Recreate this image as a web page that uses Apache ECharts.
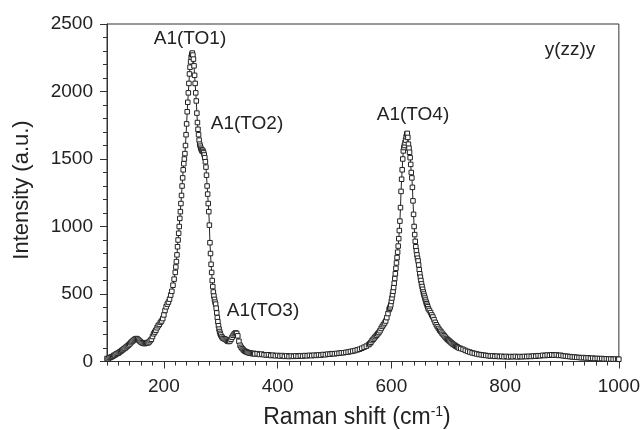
<!DOCTYPE html>
<html>
<head>
<meta charset="utf-8">
<script src="https://cdn.jsdelivr.net/npm/echarts@6/dist/echarts.min.js"></script>
<style>html,body{margin:0;padding:0;background:#fff}#c{width:643px;height:430px}</style>
</head>
<body>
<div id="c"></div>
<script>
// ---- data: [Raman shift (cm-1), intensity (a.u.)] ----
const lowRange = [[100,22],[102,20],[104,28],[106,30],[108,35],[110,38],[112,45],[114,48],[116,55],[118,60],[120,62],[122,70],[124,75],[126,82],[128,88],[130,95],[132,100],[134,108],[136,115],[138,122],[140,130],[142,140],[144,148],[146,155],[148,162],[150,168],[152,170],[154,165],[156,158],[158,150],[160,142],[162,138],[164,135],[166,132],[168,136],[170,140],[172,138],[174,145],[176,155],[178,165],[180,185],[182,205],[184,218],[186,232],[188,250],[190,265],[192,275],[194,290],[196,300],[198,318],[200,345],[202,378],[204,405],[206,425],[208,440],[210,462],[212,492],[214,520],[216,565],[218,610],[220,660]];
const peakTO1 = [[221,700],[222,740],[223,790],[224,850],[225,900],[226,950],[227,1000],[228,1060],[229,1110],[230,1170],[231,1230],[232,1300],[233,1360],[234,1420],[235,1465],[236,1500],[237,1540],[238,1600],[239,1680],[240,1760],[241,1850],[242,1920],[243,1990],[244,2060],[245,2130],[246,2180],[247,2220],[248,2255],[249,2275],[250,2285],[251,2270],[252,2240],[253,2190],[254,2120],[255,2060],[256,1990],[257,1930],[258,1840],[259,1770],[260,1720],[261,1680],[262,1640],[263,1610],[264,1595],[265,1580],[266,1570],[267,1560],[268,1565],[269,1555],[270,1545],[271,1530],[272,1510],[273,1480],[274,1440],[275,1380],[276,1300],[277,1240],[278,1170],[279,1110],[280,1010],[281,880],[282,800],[283,720],[284,660],[285,600],[286,555],[287,515],[288,485],[289,460],[290,440],[291,425],[292,395],[293,360],[294,325],[295,295],[296,265],[297,240],[298,222],[299,208],[300,196]];
const peakTO3 = [[302,182],[304,172],[306,168],[308,165],[310,158],[312,150],[314,148],[316,152],[318,165],[320,180],[322,195],[324,205],[326,212],[328,208],[330,190],[332,150],[334,120],[336,105],[338,95],[340,85],[342,78],[344,73],[346,70],[348,66],[350,64],[352,62],[354,60],[356,58],[358,60],[360,56]];
const baseline = [[364,58],[368,52],[372,55],[376,50],[380,48],[384,50],[388,44],[392,47],[396,42],[400,45],[404,40],[408,44],[412,38],[416,42],[420,37],[424,41],[428,38],[432,42],[436,39],[440,43],[444,40],[448,44],[452,42],[456,46],[460,43],[464,47],[468,45],[472,49],[476,47],[480,52],[484,50],[488,55],[492,54],[496,58],[500,57],[504,60],[508,61],[512,64],[516,65],[520,68],[524,70],[528,74],[532,77],[536,81],[540,86],[544,91],[548,98],[552,106],[556,114],[560,125],[562,132],[564,142],[566,155],[568,165],[570,175],[572,185],[574,195],[576,205],[578,215],[580,228],[582,245],[584,260],[586,272],[588,285],[590,300],[592,325],[594,355],[596,385]];
const peakTO4 = [[597,395],[598,405],[599,420],[600,445],[601,470],[602,495],[603,520],[604,548],[605,580],[606,615],[607,650],[608,690],[609,730],[610,770],[611,810],[612,855],[613,910],[614,970],[615,1040],[616,1140],[617,1260],[618,1350],[619,1420],[620,1500],[621,1560],[622,1585],[623,1600],[624,1620],[625,1640],[626,1665],[627,1685],[628,1690],[629,1660],[630,1610],[631,1580],[632,1550],[633,1510],[634,1460],[635,1400],[636,1360],[637,1290],[638,1190],[639,1090],[640,1000],[641,940],[642,890],[643,850],[644,820],[645,790],[646,765],[647,745],[648,715],[649,680],[650,650],[651,625],[652,600],[653,575],[654,555],[655,535],[656,515],[657,500],[658,485],[659,470],[660,455],[661,440],[662,428],[663,416],[664,405],[665,390]];
const tailRange = [[667,378],[669,362],[671,345],[673,330],[675,310],[677,290],[679,272],[681,258],[683,245],[685,232],[687,222],[689,210],[691,200],[693,190],[695,180],[697,170],[699,162],[701,155],[703,148],[705,140],[707,133],[709,127],[711,121],[713,115],[715,110],[717,105],[719,100],[722,96],[726,90],[730,82],[734,75],[738,70],[742,64],[746,60],[750,56],[754,52],[758,50],[762,47],[766,45],[770,43],[774,40],[778,42],[782,38],[786,40],[790,36],[794,39],[798,35],[802,38],[806,34],[810,37],[814,35],[818,38],[822,34],[826,37],[830,35],[834,38],[838,36],[842,39],[846,37],[850,41],[854,39],[858,43],[862,42],[866,46],[870,44],[874,48],[878,46],[882,50],[886,47],[890,49],[894,45],[898,46],[902,42],[906,40],[910,38],[914,36],[918,34],[922,33],[926,31],[930,30],[934,28],[938,29],[942,26],[946,27],[950,24],[954,25],[958,22],[962,23],[966,21],[970,22],[974,19],[978,20],[982,18],[986,19],[990,17],[994,18],[998,16],[1000,17]];

const xTickLabels = [200, 400, 600, 800, 1000];
const yTickLabels = [0, 500, 1000, 1500, 2000, 2500];
const peakLabels = ['A1(TO1)', 'A1(TO2)', 'A1(TO3)', 'A1(TO4)'];
const geometryLabel = 'y(zz)y';

const spectrum = [].concat(lowRange, peakTO1, peakTO3, baseline, peakTO4, tailRange);

const FONT = '"Liberation Sans", Arial, Helvetica, sans-serif';
const TXT = '#222';
const AX = '#333';

const chart = echarts.init(document.getElementById('c'), null, {renderer: 'canvas'});

// annotation positions (pixels)
const annPos = [[190, 39], [247, 124], [263, 311], [413, 115]];
const graphics = peakLabels.map((t, i) => ({
  type: 'text', x: annPos[i][0], y: annPos[i][1],
  style: {text: t, fill: TXT, font: '19px ' + FONT, textAlign: 'center', textVerticalAlign: 'middle'}
}));
graphics.push({
  type: 'text', x: 570, y: 50,
  style: {text: geometryLabel, fill: TXT, font: '19px ' + FONT, textAlign: 'center', textVerticalAlign: 'middle'}
});
graphics.push({
  type: 'text', x: 22, y: 190, rotation: Math.PI / 2,
  style: {text: 'Intensity (a.u.)', fill: TXT, font: '22px ' + FONT, textAlign: 'center', textVerticalAlign: 'middle'}
});
graphics.push({
  type: 'text', x: 357, y: 418,
  style: {
    text: '{m|Raman shift (cm}{s|-1}{m|)}',
    textAlign: 'center', textVerticalAlign: 'middle',
    rich: {
      m: {fontSize: 23, fontFamily: FONT, fill: TXT, color: TXT, lineHeight: 26},
      s: {fontSize: 14, fontFamily: FONT, fill: TXT, color: TXT, lineHeight: 26, verticalAlign: 'top', padding: [0, 0, 9, 0]}
    }
  }
});

const plain = v => String(v);

chart.setOption({
  animation: false,
  backgroundColor: '#fff',
  grid: {left: 107, right: 22, top: 24, bottom: 68.5, show: true, borderColor: AX, borderWidth: 1, containLabel: false},
  xAxis: [{
    type: 'value', min: 100, max: 1000, interval: 20,
    axisLine: {show: true, lineStyle: {color: AX, width: 1}},
    axisTick: {show: true, length: 4, lineStyle: {color: AX}},
    axisLabel: {customValues: xTickLabels, formatter: plain, color: TXT, fontSize: 19, fontFamily: FONT, margin: 16},
    splitLine: {show: false}
  }, {
    type: 'value', min: 100, max: 1000, position: 'bottom', gridIndex: 0,
    axisLine: {show: false},
    axisTick: {show: true, customValues: xTickLabels, length: 7, lineStyle: {color: AX}},
    axisLabel: {show: false},
    splitLine: {show: false}
  }],
  yAxis: {
    type: 'value', min: 0, max: 2500, interval: 500,
    axisLine: {show: true, lineStyle: {color: AX, width: 1}},
    axisTick: {show: true, length: 7, lineStyle: {color: AX}},
    minorTick: {show: true, splitNumber: 5, length: 4, lineStyle: {color: AX}},
    axisLabel: {customValues: yTickLabels, formatter: plain, color: TXT, fontSize: 19, fontFamily: FONT, margin: 14},
    splitLine: {show: false}
  },
  series: [{
    type: 'line', xAxisIndex: 0, data: spectrum,
    symbol: 'rect', symbolSize: 4.5, showSymbol: true, showAllSymbol: true,
    lineStyle: {color: '#222', width: 1},
    itemStyle: {color: '#fff', borderColor: '#222', borderWidth: 1},
    emphasis: {disabled: true}
  }],
  graphic: graphics
});
</script>
</body>
</html>
